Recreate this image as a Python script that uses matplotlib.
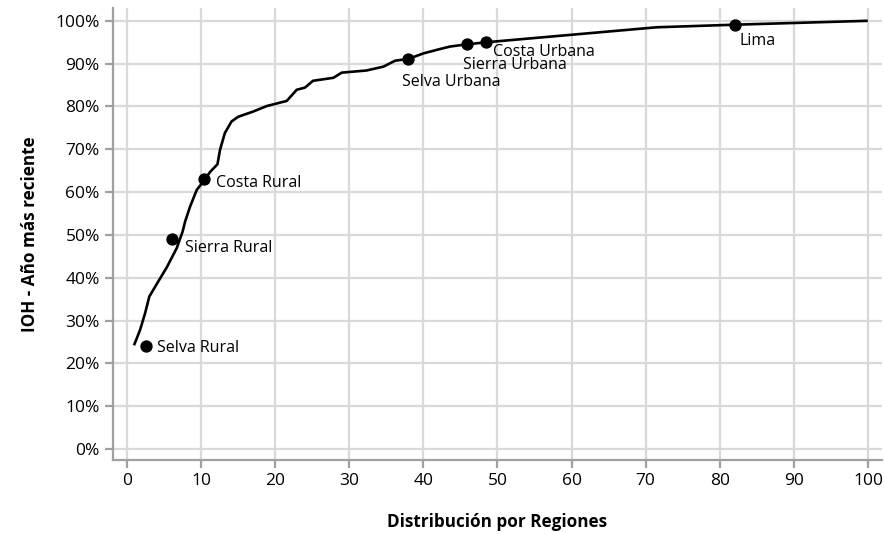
import matplotlib
matplotlib.use("Agg")
import matplotlib.pyplot as plt
from matplotlib.ticker import FuncFormatter

# curva de distribución
curve_x = [1.0, 1.75, 2.43, 3.0, 4.2, 5.35, 6.7, 7.5, 7.83, 8.5, 9.4, 10.3, 11.2, 12.2,
           12.55, 13.2, 14.1, 15.0, 17.0, 18.85, 21.55, 22.9, 24.0, 25.1, 27.85, 28.97,
           32.3, 34.6, 35.5, 36.2, 37.96, 40.0, 42.2, 43.6, 45.8, 48.5, 71.5, 82.05, 99.8]
curve_y = [24.5, 27.8, 31.7, 35.6, 39.1, 42.4, 46.9, 50.8, 53.1, 56.6, 60.5, 62.5, 64.7, 66.5,
           69.9, 73.8, 76.5, 77.6, 78.8, 80.1, 81.3, 83.9, 84.4, 86.0, 86.7, 87.9,
           88.4, 89.3, 90.1, 90.7, 91.1, 92.4, 93.4, 94.0, 94.5, 95.0, 98.5, 99.1, 100.0]

# regiones
regiones = ["Selva Rural", "Sierra Rural", "Costa Rural", "Selva Urbana",
            "Sierra Urbana", "Costa Urbana", "Lima"]
reg_x = [2.5, 6.03, 10.4, 37.9, 45.9, 48.4, 82.05]
reg_y = [24.1, 49.0, 63.0, 91.1, 94.6, 95.0, 99.1]
# desplazamiento de etiquetas (px)
offsets = [(11, -2), (13, -9), (12, -4), (-6, -23), (-4, -21), (7, -10), (5, -16)]

plt.rcParams['font.family'] = ['Open Sans', 'DejaVu Sans']

fig = plt.figure(figsize=(8.84, 5.34), dpi=100)
ax = fig.add_axes([113 / 884, 74 / 534, 769 / 884, 452 / 534])

ax.plot(curve_x, curve_y, color='black', lw=1.9, zorder=3)
ax.scatter(reg_x, reg_y, s=62, color='black', zorder=4)
for name, x, y, (dx, dy) in zip(regiones, reg_x, reg_y, offsets):
    ax.annotate(name, (x, y), xytext=(dx * 0.72, dy * 0.72), textcoords='offset points',
                ha='left', va='center', fontsize=11.5)

ax.set_xlim(-1.9, 101.9)
ax.set_ylim(-2.57, 103)
ax.set_xticks(range(0, 101, 10))
ax.set_yticks(range(0, 101, 10))
ax.yaxis.set_major_formatter(FuncFormatter(lambda v, p: f"{int(v)}%"))
ax.grid(True, color='#d9d9d9', lw=1.6)
ax.set_axisbelow(True)

for s in ['top', 'right']:
    ax.spines[s].set_visible(False)
for s in ['left', 'bottom']:
    ax.spines[s].set_color('#a0a0a0')
    ax.spines[s].set_linewidth(1.6)
ax.tick_params(colors='#a0a0a0', length=5.5, width=1.6, pad=4,
               labelcolor='black', labelsize=12.5)

ax.set_xlabel("Distribución por Regiones", fontsize=12.3, fontweight='bold', labelpad=17)
ax.set_ylabel("IOH - Año más reciente", fontsize=12.3, fontweight='bold', labelpad=12)

fig.savefig("out.png", dpi=100)
